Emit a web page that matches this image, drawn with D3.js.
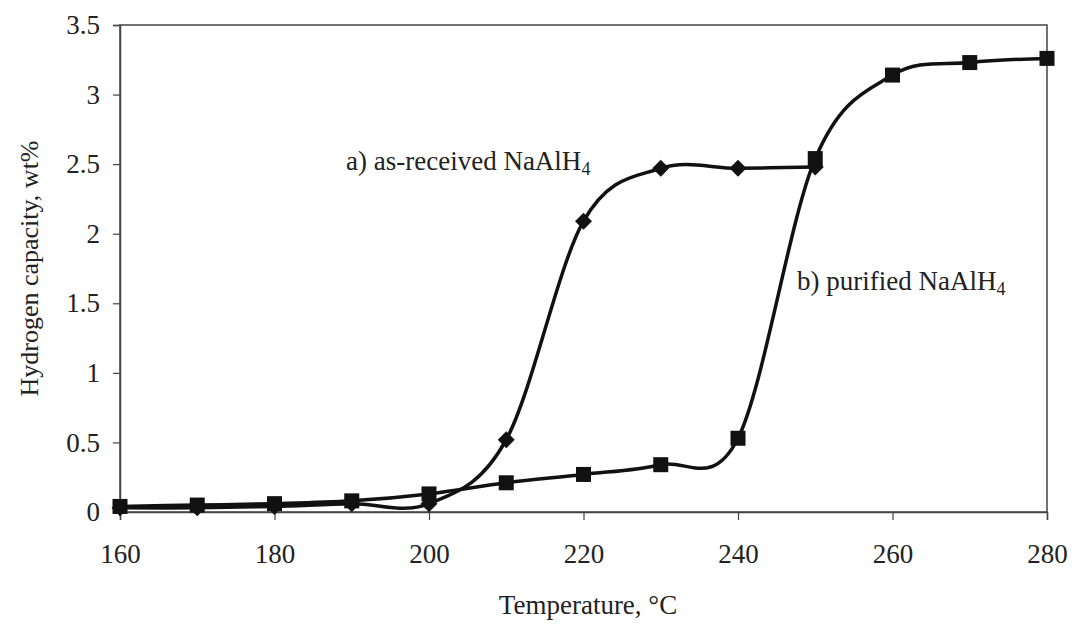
<!DOCTYPE html>
<html><head><meta charset="utf-8">
<script src="https://cdn.jsdelivr.net/npm/d3@7"></script>
<style>body{margin:0;background:#fff}svg{display:block}text{font-family:"Liberation Serif","Times New Roman",serif;fill:#222}</style>
</head><body>
<svg id="c" width="1076" height="624"></svg>
<script>
const temps = [160,170,180,190,200,210,220,230,240,250,260,270,280];
const tempsA = [160,170,180,190,200,210,220,230,240,250];
const valuesA = [0.03,0.03,0.04,0.06,0.06,0.52,2.09,2.47,2.47,2.48];
const valuesB = [0.04,0.05,0.06,0.08,0.13,0.21,0.27,0.34,0.53,2.54,3.14,3.23,3.26];
const xTicks = [160,180,200,220,240,260,280];
const yTicks = [0,0.5,1,1.5,2,2.5,3,3.5];

const svg = d3.select("#c");
const m = {l:120, r:1047, t:25, b:512};
const x = d3.scaleLinear().domain([160,280]).range([m.l,m.r]);
const y = d3.scaleLinear().domain([0,3.5]).range([m.b,m.t]);

// frame
svg.append("rect").attr("x",m.l).attr("y",m.t).attr("width",m.r-m.l).attr("height",m.b-m.t)
  .attr("fill","none").attr("stroke","#444").attr("stroke-width",1.5);

const xa = svg.append("g").attr("transform",`translate(0,${m.b})`)
  .call(d3.axisBottom(x).tickValues(xTicks).tickSize(8).tickPadding(24).tickFormat(d3.format("d")));
const ya = svg.append("g").attr("transform",`translate(${m.l},0)`)
  .call(d3.axisLeft(y).tickValues(yTicks).tickSize(7).tickPadding(13).tickFormat(d=>String(d)));
[xa,ya].forEach(a=>{
  a.select(".domain").attr("stroke","#444").attr("stroke-width",1.5);
  a.selectAll(".tick line").attr("stroke","#444").attr("stroke-width",1.2);
  a.selectAll("text").attr("font-size",27).attr("fill","#222").style("font-family",'"Liberation Serif",serif');
});

const line = d3.line().x(d=>x(d[0])).y(d=>y(d[1])).curve(d3.curveCardinal.tension(0));
const dA = tempsA.map((t,i)=>[t,valuesA[i]]);
const dB = temps.map((t,i)=>[t,valuesB[i]]);

svg.append("path").datum(dA).attr("d",line).attr("fill","none").attr("stroke","#111").attr("stroke-width",3.5);
svg.append("path").datum(dB).attr("d",line).attr("fill","none").attr("stroke","#111").attr("stroke-width",3.5);

svg.selectAll(".sq").data(dB).join("rect").attr("class","sq")
  .attr("x",d=>x(d[0])-7.5).attr("y",d=>y(d[1])-7.5).attr("width",15).attr("height",15).attr("fill","#111");
svg.selectAll(".dm").data(dA).join("path").attr("class","dm")
  .attr("transform",d=>`translate(${x(d[0])},${y(d[1])})`)
  .attr("d","M0,-8.5L8.5,0L0,8.5L-8.5,0Z").attr("fill","#111");

// axis titles
svg.append("text").attr("x",588).attr("y",614).attr("text-anchor","middle").attr("font-size",27).text("Temperature, °C");
svg.append("text").attr("transform",`translate(38,${(m.t+m.b)/2}) rotate(-90)`).attr("text-anchor","middle").attr("font-size",26).text("Hydrogen capacity, wt%");

// annotations
function ann(tx,ty,label){
  const t = svg.append("text").attr("x",tx).attr("y",ty).attr("font-size",27);
  t.append("tspan").text(label);
  t.append("tspan").attr("font-size",18).attr("dy",5).text("4");
}
ann(346,170,"a) as-received NaAlH");
ann(797,290,"b) purified NaAlH");
</script>
</body></html>
